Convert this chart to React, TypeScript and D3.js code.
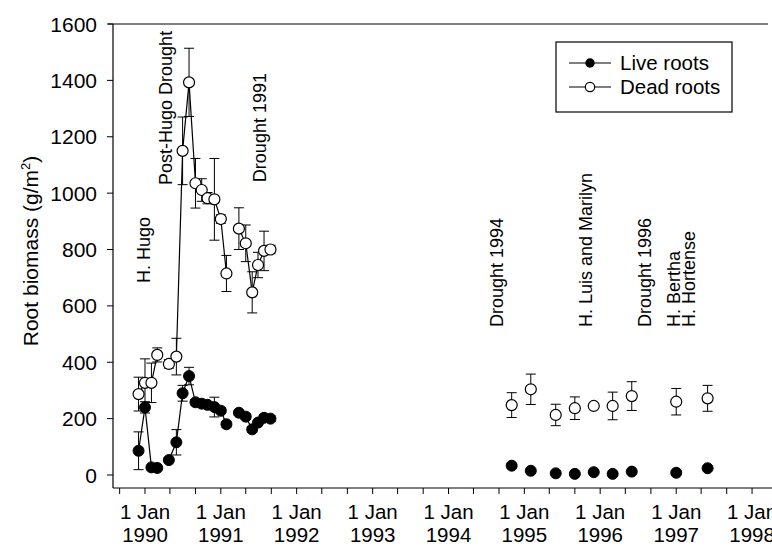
import React from "react";
import * as d3 from "d3";

// 1989-1991 sampling (both root classes on the same dates)
const surveyDates = [
  "1989-12-01", "1990-01-01", "1990-02-01", "1990-03-01",
  "1990-04-26", "1990-06-01", "1990-07-01", "1990-08-01", "1990-09-01",
  "1990-10-01", "1990-10-29", "1990-12-01", "1991-01-01", "1991-01-28",
  "1991-03-29", "1991-05-01", "1991-06-01", "1991-06-29", "1991-07-28", "1991-08-28",
];
const liveValues = [86, 240, 27, 25, 53, 116, 290, 351, 258, 253, 249, 241, 228, 180, 221, 207, 162, 186, 203, 200];
const liveErrors = [67, 20, 5, 5, 8, 45, 28, 31, 10, 10, 10, 35, 10, 10, 10, 10, 10, 10, 10, 10];
const deadValues = [287, 327, 327, 426, 394, 420, 1150, 1393, 1035, 1011, 982, 978, 908, 715, 874, 822, 648, 745, 795, 800];
const deadErrors = [60, 85, 70, 25, 15, 65, 120, 121, 88, 40, 20, 145, 15, 64, 74, 65, 73, 45, 70, 15];
// index where a new connected run starts
const runStarts = [0, 4, 14, 20];

// 1994-1997 sampling (not connected)
const laterDates = [
  "1994-11-01", "1995-02-01", "1995-06-01", "1995-09-01", "1995-12-01",
  "1996-03-01", "1996-06-01", "1997-01-01", "1997-06-01",
];
const laterLive = [33, 15, 6, 4, 10, 4, 12, 8, 24];
const laterDead = [248, 304, 213, 237, 245, 245, 280, 260, 272];
const laterDeadErrors = [44, 54, 38, 40, 0, 49, 51, 47, 46];

const eventLabels = [
  "H. Hugo", "Post-Hugo Drought", "Drought 1991", "Drought 1994",
  "H. Luis and Marilyn", "Drought 1996", "H. Bertha", "H. Hortense",
];
const eventDates = [
  "1990-01-25", "1990-05-09", "1991-08-06", "1994-09-20",
  "1995-11-23", "1996-09-02", "1997-01-19", "1997-04-01",
];
const eventLevels = [681, 1029, 1039, 525, 525, 525, 525, 525];

const yTicks = [0, 200, 400, 600, 800, 1000, 1200, 1400, 1600];

const FONT = "'Liberation Sans', Arial, Helvetica, sans-serif";

const App = () => {
  const width = 772;
  const height = 548;
  const parse = d3.timeParse("%Y-%m-%d");

  const xScale = d3
    .scaleTime()
    .domain([new Date(1989, 6, 31), new Date(1998, 3, 7)])
    .range([113, 772]);

  const yScale = d3.scaleLinear().domain([0, 1600]).range([475, 24]);

  const early = surveyDates.map((d, i) => ({
    date: parse(d),
    live: liveValues[i],
    liveErr: liveErrors[i],
    dead: deadValues[i],
    deadErr: deadErrors[i],
  }));
  const later = laterDates.map((d, i) => ({
    date: parse(d),
    live: laterLive[i],
    dead: laterDead[i],
    deadErr: laterDeadErrors[i],
  }));

  const runs = runStarts.slice(0, -1).map((s, i) => early.slice(s, runStarts[i + 1]));

  const liveLine = d3.line().x((d) => xScale(d.date)).y((d) => yScale(d.live));
  const deadLine = d3.line().x((d) => xScale(d.date)).y((d) => yScale(d.dead));

  const errorBar = (x, v, e, key) => {
    if (!e) return null;
    const y1 = yScale(v + e);
    const y2 = yScale(v - e);
    return (
      <g key={key} stroke="#000" strokeWidth={1}>
        <line x1={x} x2={x} y1={y1} y2={y2} />
        <line x1={x - 5} x2={x + 5} y1={y1} y2={y1} />
        <line x1={x - 5} x2={x + 5} y1={y2} y2={y2} />
      </g>
    );
  };

  const xTicks = xScale.ticks(d3.timeMonth.every(4));
  const r = 5.5;

  return (
    <svg
      width={width}
      height={height}
      viewBox={`0 0 ${width} ${height}`}
      style={{ position: "absolute", left: 0, top: 0, background: "#fff" }}
      fontFamily={FONT}
    >
      {/* frame */}
      <line x1={113} x2={113} y1={24} y2={488} stroke="#000" strokeWidth={1.2} />
      <line x1={108} x2={768} y1={24} y2={24} stroke="#000" strokeWidth={1.2} />
      <line x1={113} x2={772} y1={488} y2={488} stroke="#000" strokeWidth={1.2} />

      {/* y axis */}
      {yTicks.map((t) => (
        <g key={t}>
          <line x1={107} x2={113} y1={yScale(t)} y2={yScale(t)} stroke="#000" />
          <text x={97} y={yScale(t) + 7.5} textAnchor="end" fontSize={21}>
            {t}
          </text>
        </g>
      ))}
      <text
        transform={`translate(38,251) rotate(-90)`}
        textAnchor="middle"
        fontSize={21}
      >
        Root biomass (g/m
        <tspan fontSize={13} dy={-8}>2</tspan>
        <tspan dy={8}>)</tspan>
      </text>

      {/* x axis */}
      {xTicks.map((t, i) => (
        <g key={i}>
          <line x1={xScale(t)} x2={xScale(t)} y1={488} y2={494} stroke="#000" />
          {t.getMonth() === 0 && (
            <text x={xScale(t)} textAnchor="middle" fontSize={20.5}>
              <tspan x={xScale(t)} y={519}>1 Jan</tspan>
              <tspan x={xScale(t)} y={542}>{t.getFullYear()}</tspan>
            </text>
          )}
        </g>
      ))}

      {/* event annotations */}
      {eventLabels.map((l, i) => (
        <text
          key={l}
          transform={`translate(${xScale(parse(eventDates[i]))},${yScale(eventLevels[i])}) rotate(-90)`}
          fontSize={18}
        >
          {l}
        </text>
      ))}

      {/* connecting lines */}
      {runs.map((run, i) => (
        <g key={i} fill="none" stroke="#000" strokeWidth={1.2}>
          <path d={deadLine(run)} />
          <path d={liveLine(run)} />
        </g>
      ))}

      {/* error bars */}
      {early.map((d, i) => errorBar(xScale(d.date), d.dead, d.deadErr, `de${i}`))}
      {early.map((d, i) => errorBar(xScale(d.date), d.live, d.liveErr, `le${i}`))}
      {later.map((d, i) => errorBar(xScale(d.date), d.dead, d.deadErr, `lde${i}`))}

      {/* markers */}
      {early.concat(later).map((d, i) => (
        <circle key={`d${i}`} cx={xScale(d.date)} cy={yScale(d.dead)} r={r}
          fill="#fff" stroke="#000" strokeWidth={1.2} />
      ))}
      {early.concat(later).map((d, i) => (
        <circle key={`l${i}`} cx={xScale(d.date)} cy={yScale(d.live)} r={r}
          fill="#000" stroke="#000" strokeWidth={1} />
      ))}

      {/* legend */}
      <rect x={556} y={42} width={176} height={70} fill="#fff" stroke="#000" strokeWidth={1.2} />
      <line x1={569} x2={611} y1={63} y2={63} stroke="#000" strokeWidth={1.2} />
      <circle cx={590} cy={63} r={4.7} fill="#000" />
      <text x={620} y={70} fontSize={20.5}>Live roots</text>
      <line x1={569} x2={611} y1={87} y2={87} stroke="#000" strokeWidth={1.2} />
      <circle cx={590} cy={87} r={4.7} fill="#fff" stroke="#000" strokeWidth={1.2} />
      <text x={620} y={94} fontSize={20.5}>Dead roots</text>
    </svg>
  );
};

export default App;
